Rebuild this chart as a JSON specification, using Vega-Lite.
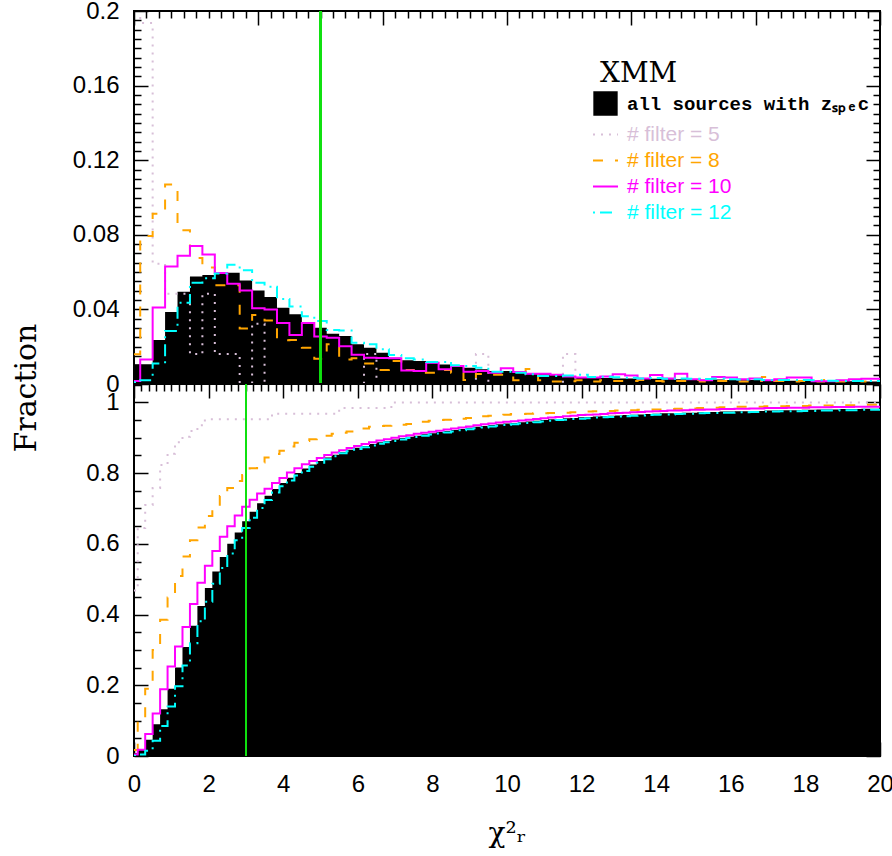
{
  "$schema": "https://vega.github.io/schema/vega-lite/v6.json",
  "background": "white",
  "padding": {"left": 12, "top": -2, "right": 0, "bottom": 5},
  "title": {"text": "Fraction", "orient": "left", "anchor": "middle", "font": "DejaVu Serif", "fontSize": 30, "fontWeight": "normal", "color": "black", "offset": 29, "dx": 35},
  "bounds": "flush",
  "spacing": 0,
  "config": {
    "view": {"stroke": "black", "strokeWidth": 2},
    "axis": {"domain": false, "grid": false, "tickColor": "black", "tickWidth": 1.5, "labelFont": "Liberation Sans", "labelFontSize": 24, "labelColor": "black", "labelOverlap": false, "labelFlush": false, "titleColor": "black"}
  },
  "resolve": {"scale": {"color": "independent", "strokeDash": "independent"}, "legend": {"color": "independent", "strokeDash": "independent"}},
  "datasets": {
    "top": [
      {"k":0,"all":0.0106,"f5":0.468,"f8":0.0159,"f10":0.0016,"f12":0.001},
      {"k":1,"all":0.0106,"f5":0.1935,"f8":0.0794,"f10":0.0132,"f12":0.002},
      {"k":2,"all":0.0236,"f5":0.0645,"f8":0.0913,"f10":0.041,"f12":0.011},
      {"k":3,"all":0.0386,"f5":0.0484,"f8":0.107,"f10":0.063,"f12":0.0284},
      {"k":4,"all":0.0495,"f5":0.0484,"f8":0.0825,"f10":0.0688,"f12":0.0436},
      {"k":5,"all":0.0576,"f5":0.0161,"f8":0.0676,"f10":0.074,"f12":0.0543},
      {"k":6,"all":0.0585,"f5":0.0484,"f8":0.0624,"f10":0.0695,"f12":0.0567},
      {"k":7,"all":0.0591,"f5":0.0161,"f8":0.053,"f10":0.0595,"f12":0.0592},
      {"k":8,"all":0.0596,"f5":0.0161,"f8":0.053,"f10":0.0537,"f12":0.064},
      {"k":9,"all":0.0555,"f5":0,"f8":0.0297,"f10":0.0502,"f12":0.061},
      {"k":10,"all":0.0502,"f5":0.0323,"f8":0.037,"f10":0.0406,"f12":0.0543},
      {"k":11,"all":0.0466,"f5":0,"f8":0.0341,"f10":0.04,"f12":0.0522},
      {"k":12,"all":0.0409,"f5":0,"f8":0.0235,"f10":0.0327,"f12":0.0456},
      {"k":13,"all":0.0374,"f5":0,"f8":0.0236,"f10":0.0263,"f12":0.0415},
      {"k":14,"all":0.0329,"f5":0,"f8":0.0195,"f10":0.0327,"f12":0.0363},
      {"k":15,"all":0.0302,"f5":0,"f8":0.0135,"f10":0.0255,"f12":0.0338},
      {"k":16,"all":0.027,"f5":0,"f8":0.0213,"f10":0.0248,"f12":0.029},
      {"k":17,"all":0.0257,"f5":0,"f8":0.0132,"f10":0.0202,"f12":0.0287},
      {"k":18,"all":0.0213,"f5":0,"f8":0.0138,"f10":0.0157,"f12":0.0221},
      {"k":19,"all":0.0195,"f5":0.0161,"f8":0.011,"f10":0.0141,"f12":0.0213},
      {"k":20,"all":0.0168,"f5":0,"f8":0.0075,"f10":0.014,"f12":0.0186},
      {"k":21,"all":0.0141,"f5":0,"f8":0.0123,"f10":0.0138,"f12":0.0155},
      {"k":22,"all":0.0127,"f5":0,"f8":0.0075,"f10":0.0073,"f12":0.0138},
      {"k":23,"all":0.0123,"f5":0,"f8":0.006,"f10":0.007,"f12":0.0132},
      {"k":24,"all":0.0111,"f5":0,"f8":0.006,"f10":0.0114,"f12":0.0118},
      {"k":25,"all":0.0105,"f5":0,"f8":0.0075,"f10":0.0079,"f12":0.0118},
      {"k":26,"all":0.0097,"f5":0,"f8":0.006,"f10":0.0097,"f12":0.01},
      {"k":27,"all":0.0087,"f5":0,"f8":0.0021,"f10":0.0066,"f12":0.0097},
      {"k":28,"all":0.0079,"f5":0.0161,"f8":0.0054,"f10":0.007,"f12":0.0087},
      {"k":29,"all":0.007,"f5":0,"f8":0.005,"f10":0.006,"f12":0.0066},
      {"k":30,"all":0.007,"f5":0,"f8":0.005,"f10":0.0085,"f12":0.0066},
      {"k":31,"all":0.006,"f5":0,"f8":0.002,"f10":0.0065,"f12":0.006},
      {"k":32,"all":0.0055,"f5":0,"f8":0.008,"f10":0.0055,"f12":0.0052},
      {"k":33,"all":0.0052,"f5":0,"f8":0.002,"f10":0.0055,"f12":0.0043},
      {"k":34,"all":0.0049,"f5":0,"f8":0.0013,"f10":0.005,"f12":0.0043},
      {"k":35,"all":0.0043,"f5":0.0161,"f8":0.0015,"f10":0.004,"f12":0.0045},
      {"k":36,"all":0.0038,"f5":0,"f8":0.002,"f10":0.0035,"f12":0.0049},
      {"k":37,"all":0.0034,"f5":0,"f8":0.0013,"f10":0.0035,"f12":0.0038},
      {"k":38,"all":0.0032,"f5":0,"f8":0.002,"f10":0.004,"f12":0.0039},
      {"k":39,"all":0.003,"f5":0,"f8":0.0016,"f10":0.0052,"f12":0.0036},
      {"k":40,"all":0.0029,"f5":0,"f8":0.0016,"f10":0.0045,"f12":0.0034},
      {"k":41,"all":0.0027,"f5":0,"f8":0.0021,"f10":0.003,"f12":0.003},
      {"k":42,"all":0.0028,"f5":0,"f8":0.0016,"f10":0.0048,"f12":0.0032},
      {"k":43,"all":0.0025,"f5":0,"f8":0.0013,"f10":0.003,"f12":0.0028},
      {"k":44,"all":0.0026,"f5":0,"f8":0.0016,"f10":0.0055,"f12":0.003},
      {"k":45,"all":0.0024,"f5":0,"f8":0.0021,"f10":0.0025,"f12":0.0028},
      {"k":46,"all":0.0023,"f5":0,"f8":0.0013,"f10":0.002,"f12":0.0027},
      {"k":47,"all":0.0024,"f5":0,"f8":0.0016,"f10":0.0037,"f12":0.0029},
      {"k":48,"all":0.0021,"f5":0,"f8":0.0016,"f10":0.0035,"f12":0.0025},
      {"k":49,"all":0.002,"f5":0,"f8":0.0013,"f10":0.0025,"f12":0.0024},
      {"k":50,"all":0.0021,"f5":0,"f8":0.0016,"f10":0.003,"f12":0.0025},
      {"k":51,"all":0.0019,"f5":0,"f8":0.0037,"f10":0.002,"f12":0.0022},
      {"k":52,"all":0.0019,"f5":0,"f8":0.0016,"f10":0.0025,"f12":0.0022},
      {"k":53,"all":0.0018,"f5":0,"f8":0.0013,"f10":0.0035,"f12":0.0022},
      {"k":54,"all":0.0018,"f5":0,"f8":0.0016,"f10":0.0035,"f12":0.0021},
      {"k":55,"all":0.0017,"f5":0,"f8":0.0013,"f10":0.0015,"f12":0.002},
      {"k":56,"all":0.0016,"f5":0,"f8":0.0021,"f10":0.0015,"f12":0.0018},
      {"k":57,"all":0.0015,"f5":0,"f8":0.0013,"f10":0.002,"f12":0.0016},
      {"k":58,"all":0.0015,"f5":0,"f8":0.0016,"f10":0.0025,"f12":0.0016},
      {"k":59,"all":0.0014,"f5":0,"f8":0.0013,"f10":0.0028,"f12":0.0016},
      {"k":60,"all":0.0014,"f5":0,"f8":0.0016,"f10":0.0028,"f12":0.0016}
    ],
    "bottom": [
      {"x":0,"all":0.008,"f5":0.468,"f8":0.017,"f10":0.004,"f12":0.001},
      {"x":0.2,"all":0.02,"f5":0.645,"f8":0.099,"f10":0.018,"f12":0.004},
      {"x":0.4,"all":0.046,"f5":0.71,"f8":0.19,"f10":0.062,"f12":0.015},
      {"x":0.6,"all":0.09,"f5":0.758,"f8":0.3,"f10":0.12,"f12":0.043},
      {"x":0.8,"all":0.132,"f5":0.823,"f8":0.385,"f10":0.189,"f12":0.085},
      {"x":1,"all":0.19,"f5":0.855,"f8":0.448,"f10":0.253,"f12":0.14},
      {"x":1.2,"all":0.25,"f5":0.887,"f8":0.509,"f10":0.31,"f12":0.197},
      {"x":1.4,"all":0.308,"f5":0.903,"f8":0.564,"f10":0.365,"f12":0.256},
      {"x":1.6,"all":0.368,"f5":0.919,"f8":0.61,"f10":0.43,"f12":0.319},
      {"x":1.8,"all":0.424,"f5":0.935,"f8":0.646,"f10":0.49,"f12":0.381},
      {"x":2,"all":0.475,"f5":0.952,"f8":0.679,"f10":0.538,"f12":0.436},
      {"x":2.2,"all":0.522,"f5":0.952,"f8":0.707,"f10":0.58,"f12":0.487},
      {"x":2.4,"all":0.563,"f5":0.952,"f8":0.735,"f10":0.62,"f12":0.532},
      {"x":2.6,"all":0.6,"f5":0.952,"f8":0.758,"f10":0.65,"f12":0.573},
      {"x":2.8,"all":0.632,"f5":0.952,"f8":0.778,"f10":0.68,"f12":0.61},
      {"x":3,"all":0.664,"f5":0.952,"f8":0.795,"f10":0.705,"f12":0.645},
      {"x":3.2,"all":0.691,"f5":0.952,"f8":0.814,"f10":0.725,"f12":0.674},
      {"x":3.4,"all":0.715,"f5":0.952,"f8":0.83,"f10":0.742,"f12":0.701},
      {"x":3.6,"all":0.736,"f5":0.952,"f8":0.844,"f10":0.756,"f12":0.724},
      {"x":3.8,"all":0.755,"f5":0.968,"f8":0.854,"f10":0.772,"f12":0.745},
      {"x":4,"all":0.772,"f5":0.968,"f8":0.863,"f10":0.786,"f12":0.763},
      {"x":4.2,"all":0.787,"f5":0.968,"f8":0.875,"f10":0.802,"f12":0.779},
      {"x":4.4,"all":0.8,"f5":0.968,"f8":0.886,"f10":0.814,"f12":0.793},
      {"x":4.6,"all":0.813,"f5":0.968,"f8":0.891,"f10":0.825,"f12":0.806},
      {"x":4.8,"all":0.824,"f5":0.968,"f8":0.896,"f10":0.834,"f12":0.818},
      {"x":5,"all":0.834,"f5":0.968,"f8":0.9,"f10":0.843,"f12":0.829},
      {"x":5.2,"all":0.844,"f5":0.968,"f8":0.906,"f10":0.851,"f12":0.839},
      {"x":5.4,"all":0.852,"f5":0.968,"f8":0.911,"f10":0.858,"f12":0.848},
      {"x":5.6,"all":0.86,"f5":0.984,"f8":0.914,"f10":0.865,"f12":0.856},
      {"x":5.8,"all":0.866,"f5":0.984,"f8":0.918,"f10":0.871,"f12":0.862},
      {"x":6,"all":0.872,"f5":0.984,"f8":0.921,"f10":0.877,"f12":0.868},
      {"x":6.2,"all":0.877,"f5":0.984,"f8":0.926,"f10":0.882,"f12":0.873},
      {"x":6.4,"all":0.882,"f5":0.984,"f8":0.931,"f10":0.887,"f12":0.878},
      {"x":6.6,"all":0.887,"f5":0.984,"f8":0.933,"f10":0.892,"f12":0.883},
      {"x":6.8,"all":0.891,"f5":0.984,"f8":0.934,"f10":0.896,"f12":0.887},
      {"x":7,"all":0.895,"f5":1,"f8":0.936,"f10":0.9,"f12":0.891},
      {"x":7.2,"all":0.899,"f5":1,"f8":0.937,"f10":0.904,"f12":0.895},
      {"x":7.4,"all":0.903,"f5":1,"f8":0.939,"f10":0.907,"f12":0.899},
      {"x":7.6,"all":0.906,"f5":1,"f8":0.941,"f10":0.911,"f12":0.902},
      {"x":7.8,"all":0.91,"f5":1,"f8":0.945,"f10":0.914,"f12":0.906},
      {"x":8,"all":0.913,"f5":1,"f8":0.948,"f10":0.917,"f12":0.909},
      {"x":8.2,"all":0.916,"f5":1,"f8":0.95,"f10":0.92,"f12":0.912},
      {"x":8.4,"all":0.919,"f5":1,"f8":0.951,"f10":0.923,"f12":0.915},
      {"x":8.6,"all":0.922,"f5":1,"f8":0.953,"f10":0.926,"f12":0.918},
      {"x":8.8,"all":0.925,"f5":1,"f8":0.954,"f10":0.929,"f12":0.921},
      {"x":9,"all":0.928,"f5":1,"f8":0.956,"f10":0.932,"f12":0.924},
      {"x":9.2,"all":0.931,"f5":1,"f8":0.96,"f10":0.935,"f12":0.927},
      {"x":9.4,"all":0.933,"f5":1,"f8":0.961,"f10":0.938,"f12":0.929},
      {"x":9.6,"all":0.936,"f5":1,"f8":0.962,"f10":0.94,"f12":0.932},
      {"x":9.8,"all":0.938,"f5":1,"f8":0.963,"f10":0.943,"f12":0.934},
      {"x":10,"all":0.94,"f5":1,"f8":0.965,"f10":0.945,"f12":0.936},
      {"x":10.2,"all":0.942,"f5":1,"f8":0.967,"f10":0.947,"f12":0.938},
      {"x":10.4,"all":0.944,"f5":1,"f8":0.967,"f10":0.949,"f12":0.94},
      {"x":10.6,"all":0.946,"f5":1,"f8":0.968,"f10":0.951,"f12":0.942},
      {"x":10.8,"all":0.948,"f5":1,"f8":0.969,"f10":0.953,"f12":0.944},
      {"x":11,"all":0.95,"f5":1,"f8":0.969,"f10":0.955,"f12":0.946},
      {"x":11.2,"all":0.952,"f5":1,"f8":0.97,"f10":0.957,"f12":0.948},
      {"x":11.4,"all":0.953,"f5":1,"f8":0.971,"f10":0.959,"f12":0.95},
      {"x":11.6,"all":0.955,"f5":1,"f8":0.971,"f10":0.961,"f12":0.951},
      {"x":11.8,"all":0.956,"f5":1,"f8":0.972,"f10":0.962,"f12":0.953},
      {"x":12,"all":0.958,"f5":1,"f8":0.973,"f10":0.964,"f12":0.954},
      {"x":12.2,"all":0.959,"f5":1,"f8":0.974,"f10":0.965,"f12":0.955},
      {"x":12.4,"all":0.96,"f5":1,"f8":0.975,"f10":0.966,"f12":0.957},
      {"x":12.6,"all":0.961,"f5":1,"f8":0.976,"f10":0.967,"f12":0.958},
      {"x":12.8,"all":0.962,"f5":1,"f8":0.976,"f10":0.969,"f12":0.959},
      {"x":13,"all":0.963,"f5":1,"f8":0.977,"f10":0.97,"f12":0.96},
      {"x":13.2,"all":0.964,"f5":1,"f8":0.978,"f10":0.971,"f12":0.961},
      {"x":13.4,"all":0.965,"f5":1,"f8":0.978,"f10":0.972,"f12":0.962},
      {"x":13.6,"all":0.966,"f5":1,"f8":0.979,"f10":0.973,"f12":0.963},
      {"x":13.8,"all":0.967,"f5":1,"f8":0.979,"f10":0.974,"f12":0.964},
      {"x":14,"all":0.968,"f5":1,"f8":0.98,"f10":0.975,"f12":0.965},
      {"x":14.2,"all":0.969,"f5":1,"f8":0.98,"f10":0.976,"f12":0.966},
      {"x":14.4,"all":0.969,"f5":1,"f8":0.981,"f10":0.977,"f12":0.966},
      {"x":14.6,"all":0.97,"f5":1,"f8":0.982,"f10":0.977,"f12":0.967},
      {"x":14.8,"all":0.971,"f5":1,"f8":0.982,"f10":0.978,"f12":0.968},
      {"x":15,"all":0.971,"f5":1,"f8":0.983,"f10":0.979,"f12":0.968},
      {"x":15.2,"all":0.972,"f5":1,"f8":0.984,"f10":0.979,"f12":0.969},
      {"x":15.4,"all":0.973,"f5":1,"f8":0.985,"f10":0.98,"f12":0.97},
      {"x":15.6,"all":0.973,"f5":1,"f8":0.985,"f10":0.98,"f12":0.97},
      {"x":15.8,"all":0.974,"f5":1,"f8":0.986,"f10":0.981,"f12":0.971},
      {"x":16,"all":0.974,"f5":1,"f8":0.987,"f10":0.981,"f12":0.971},
      {"x":16.2,"all":0.975,"f5":1,"f8":0.988,"f10":0.982,"f12":0.972},
      {"x":16.4,"all":0.975,"f5":1,"f8":0.988,"f10":0.982,"f12":0.972},
      {"x":16.6,"all":0.976,"f5":1,"f8":0.988,"f10":0.983,"f12":0.973},
      {"x":16.8,"all":0.976,"f5":1,"f8":0.988,"f10":0.983,"f12":0.973},
      {"x":17,"all":0.977,"f5":1,"f8":0.989,"f10":0.984,"f12":0.974},
      {"x":17.2,"all":0.977,"f5":1,"f8":0.989,"f10":0.984,"f12":0.974},
      {"x":17.4,"all":0.978,"f5":1,"f8":0.989,"f10":0.984,"f12":0.975},
      {"x":17.6,"all":0.978,"f5":1,"f8":0.99,"f10":0.985,"f12":0.975},
      {"x":17.8,"all":0.978,"f5":1,"f8":0.99,"f10":0.985,"f12":0.975},
      {"x":18,"all":0.979,"f5":1,"f8":0.99,"f10":0.985,"f12":0.976},
      {"x":18.2,"all":0.979,"f5":1,"f8":0.991,"f10":0.986,"f12":0.976},
      {"x":18.4,"all":0.98,"f5":1,"f8":0.991,"f10":0.986,"f12":0.977},
      {"x":18.6,"all":0.98,"f5":1,"f8":0.991,"f10":0.986,"f12":0.977},
      {"x":18.8,"all":0.98,"f5":1,"f8":0.991,"f10":0.987,"f12":0.977},
      {"x":19,"all":0.981,"f5":1,"f8":0.992,"f10":0.987,"f12":0.978},
      {"x":19.2,"all":0.981,"f5":1,"f8":0.992,"f10":0.987,"f12":0.978},
      {"x":19.4,"all":0.981,"f5":1,"f8":0.992,"f10":0.988,"f12":0.978},
      {"x":19.6,"all":0.982,"f5":1,"f8":0.993,"f10":0.988,"f12":0.979},
      {"x":19.8,"all":0.982,"f5":1,"f8":0.993,"f10":0.988,"f12":0.979},
      {"x":20,"all":0.982,"f5":1,"f8":0.993,"f10":0.988,"f12":0.979}
    ]
  },
  "vconcat": [
    {
      "width": 746,
      "height": 373,
      "data": {"name": "top"},
      "resolve": {"axis": {"x": "independent", "y": "independent"}},
      "layer": [
        {
          "mark": {"type": "area", "interpolate": "step", "color": "black", "clip": true},
          "encoding": {
            "x": {"field": "k", "type": "quantitative", "scale": {"domain": [0, 60], "nice": false, "zero": false},
              "axis": {"orient": "top", "title": null, "labels": false, "minExtent": 0, "maxExtent": 0,
                "values": [0,1,2,3,4,5,6,7,8,9,10,11,12,13,14,15,16,17,18,19,20,21,22,23,24,25,26,27,28,29,30,31,32,33,34,35,36,37,38,39,40,41,42,43,44,45,46,47,48,49,50,51,52,53,54,55,56,57,58,59,60],
                "tickSize": {"condition": {"test": "datum.value % 10 == 0", "value": -14}, "value": -7}}},
            "y": {"field": "all", "type": "quantitative", "scale": {"domain": [0, 0.2], "nice": false},
              "axis": {"orient": "left", "title": null, "labelPadding": 29,
                "values": [0,0.005,0.01,0.015,0.02,0.025,0.03,0.035,0.04,0.045,0.05,0.055,0.06,0.065,0.07,0.075,0.08,0.085,0.09,0.095,0.1,0.105,0.11,0.115,0.12,0.125,0.13,0.135,0.14,0.145,0.15,0.155,0.16,0.165,0.17,0.175,0.18,0.185,0.19,0.195,0.2],
                "labelExpr": "abs(datum.value*25 - round(datum.value*25)) < 0.001 ? format(datum.value, '~g') : ''",
                "tickSize": {"condition": {"test": "abs(datum.value*25 - round(datum.value*25)) < 0.001", "value": -14}, "value": -7}}}
          }
        },
        {
          "transform": [{"fold": ["f5", "f8", "f10", "f12"], "as": ["series", "frac"]}],
          "mark": {"type": "line", "interpolate": "step", "strokeWidth": 2, "clip": true},
          "encoding": {
            "x": {"field": "k", "type": "quantitative", "axis": null},
            "y": {"field": "frac", "type": "quantitative",
              "axis": {"orient": "right", "title": null, "labels": false,
                "values": [0,0.005,0.01,0.015,0.02,0.025,0.03,0.035,0.04,0.045,0.05,0.055,0.06,0.065,0.07,0.075,0.08,0.085,0.09,0.095,0.1,0.105,0.11,0.115,0.12,0.125,0.13,0.135,0.14,0.145,0.15,0.155,0.16,0.165,0.17,0.175,0.18,0.185,0.19,0.195,0.2],
                "tickSize": {"condition": {"test": "abs(datum.value*25 - round(datum.value*25)) < 0.001", "value": -14}, "value": -7}}},
            "color": {"field": "series", "type": "nominal",
              "scale": {"domain": ["all", "f5", "f8", "f10", "f12"], "range": ["#000000", "#d8bfd8", "#ffa500", "#ff00ff", "#00ffff"]},
              "legend": {
                "title": "XMM", "orient": "none", "legendX": 458, "legendY": 49,
                "titleFont": "DejaVu Serif", "titleFontSize": 28, "titleFontWeight": "normal", "titleColor": "black", "titlePadding": 2,
                "labelLimit": 400, "rowPadding": 2, "labelOffset": 8, "symbolType": "stroke",
                "labelExpr": "datum.value == 'all' ? 'all sources with zₛₚₑc' : datum.value == 'f5' ? '# filter = 5' : datum.value == 'f8' ? '# filter = 8' : datum.value == 'f10' ? '# filter = 10' : '# filter = 12'",
                "encode": {
                  "title": {"update": {"dx": {"value": 8}}},
                  "symbols": {"update": {
                    "shape": {"signal": "datum.value == 'all' ? 'square' : 'stroke'"},
                    "size": {"signal": "datum.value == 'all' ? 500 : 625"},
                    "fill": {"signal": "datum.value == 'all' ? 'black' : 'transparent'"},
                    "stroke": {"signal": "datum.value == 'all' ? 'black' : datum.value == 'f5' ? '#d8bfd8' : datum.value == 'f8' ? '#ffa500' : datum.value == 'f10' ? '#ff00ff' : '#00ffff'"},
                    "strokeDash": {"signal": "datum.value == 'f5' ? [2,6] : datum.value == 'f8' ? [10,12] : datum.value == 'f12' ? [2,5,12,6] : [1,0]"},
                    "strokeWidth": {"value": 2},
                    "opacity": {"value": 1}
                  }},
                  "labels": {"update": {
                    "fill": {"signal": "datum.value == 'all' ? 'black' : datum.value == 'f5' ? '#d8bfd8' : datum.value == 'f8' ? '#ffa500' : datum.value == 'f10' ? '#ff00ff' : '#00ffff'"},
                    "font": {"signal": "datum.value == 'all' ? 'Liberation Mono' : 'Liberation Sans'"},
                    "fontWeight": {"signal": "datum.value == 'all' ? 'bold' : 'normal'"},
                    "fontSize": {"signal": "datum.value == 'all' ? 19 : 21"}
                  }}
                }
              }},
            "strokeDash": {"field": "series", "type": "nominal", "legend": null,
              "scale": {"domain": ["all", "f5", "f8", "f10", "f12"], "range": [[1, 0], [2, 6], [10, 12], [1, 0], [2, 5, 12, 6]]}}
          }
        },
        {
          "mark": {"type": "rule", "color": "#10e010", "strokeWidth": 1.5},
          "encoding": {"x": {"datum": 15, "type": "quantitative", "axis": null}}
        }
      ]
    },
    {
      "width": 746,
      "height": 372,
      "data": {"name": "bottom"},
      "resolve": {"axis": {"x": "independent", "y": "independent"}},
      "layer": [
        {
          "mark": {"type": "area", "interpolate": "step", "color": "black", "clip": true},
          "encoding": {
            "x": {"field": "x", "type": "quantitative", "scale": {"domain": [0, 20], "nice": false, "zero": false},
              "axis": {"orient": "bottom", "title": "χ²ᵣ", "titleFont": "DejaVu Serif", "titleFontSize": 28, "titleFontWeight": "normal", "titlePadding": 16, "labelPadding": 30,
                "values": [0,0.2,0.4,0.6,0.8,1,1.2,1.4,1.6,1.8,2,2.2,2.4,2.6,2.8,3,3.2,3.4,3.6,3.8,4,4.2,4.4,4.6,4.8,5,5.2,5.4,5.6,5.8,6,6.2,6.4,6.6,6.8,7,7.2,7.4,7.6,7.8,8,8.2,8.4,8.6,8.8,9,9.2,9.4,9.6,9.8,10,10.2,10.4,10.6,10.8,11,11.2,11.4,11.6,11.8,12,12.2,12.4,12.6,12.8,13,13.2,13.4,13.6,13.8,14,14.2,14.4,14.6,14.8,15,15.2,15.4,15.6,15.8,16,16.2,16.4,16.6,16.8,17,17.2,17.4,17.6,17.8,18,18.2,18.4,18.6,18.8,19,19.2,19.4,19.6,19.8,20],
                "labelExpr": "abs(datum.value/2 - round(datum.value/2)) < 0.001 ? format(datum.value, '~g') : ''",
                "tickSize": {"condition": {"test": "abs(datum.value/2 - round(datum.value/2)) < 0.001", "value": -14}, "value": -7}}},
            "y": {"field": "all", "type": "quantitative", "scale": {"domain": [0, 1.052], "nice": false},
              "axis": {"orient": "left", "title": null, "labelPadding": 29,
                "values": [0,0.05,0.1,0.15,0.2,0.25,0.3,0.35,0.4,0.45,0.5,0.55,0.6,0.65,0.7,0.75,0.8,0.85,0.9,0.95,1,1.05],
                "labelExpr": "abs(datum.value*5 - round(datum.value*5)) < 0.001 ? format(datum.value, '~g') : ''",
                "tickSize": {"condition": {"test": "abs(datum.value*5 - round(datum.value*5)) < 0.001", "value": -14}, "value": -7}}}
          }
        },
        {
          "transform": [{"fold": ["f5", "f8", "f10", "f12"], "as": ["series", "cum"]}],
          "mark": {"type": "line", "interpolate": "step", "strokeWidth": 2, "clip": true},
          "encoding": {
            "x": {"field": "x", "type": "quantitative",
              "axis": {"orient": "top", "title": null, "labels": false, "minExtent": 0, "maxExtent": 0,
                "values": [0,0.2,0.4,0.6,0.8,1,1.2,1.4,1.6,1.8,2,2.2,2.4,2.6,2.8,3,3.2,3.4,3.6,3.8,4,4.2,4.4,4.6,4.8,5,5.2,5.4,5.6,5.8,6,6.2,6.4,6.6,6.8,7,7.2,7.4,7.6,7.8,8,8.2,8.4,8.6,8.8,9,9.2,9.4,9.6,9.8,10,10.2,10.4,10.6,10.8,11,11.2,11.4,11.6,11.8,12,12.2,12.4,12.6,12.8,13,13.2,13.4,13.6,13.8,14,14.2,14.4,14.6,14.8,15,15.2,15.4,15.6,15.8,16,16.2,16.4,16.6,16.8,17,17.2,17.4,17.6,17.8,18,18.2,18.4,18.6,18.8,19,19.2,19.4,19.6,19.8,20],
                "tickSize": {"condition": {"test": "abs(datum.value/2 - round(datum.value/2)) < 0.001", "value": -14}, "value": -7}}},
            "y": {"field": "cum", "type": "quantitative",
              "axis": {"orient": "right", "title": null, "labels": false,
                "values": [0,0.05,0.1,0.15,0.2,0.25,0.3,0.35,0.4,0.45,0.5,0.55,0.6,0.65,0.7,0.75,0.8,0.85,0.9,0.95,1,1.05],
                "tickSize": {"condition": {"test": "abs(datum.value*5 - round(datum.value*5)) < 0.001", "value": -14}, "value": -7}}},
            "color": {"field": "series", "type": "nominal", "legend": null,
              "scale": {"domain": ["all", "f5", "f8", "f10", "f12"], "range": ["#000000", "#d8bfd8", "#ffa500", "#ff00ff", "#00ffff"]}},
            "strokeDash": {"field": "series", "type": "nominal", "legend": null,
              "scale": {"domain": ["all", "f5", "f8", "f10", "f12"], "range": [[1, 0], [2, 6], [10, 12], [1, 0], [2, 5, 12, 6]]}}
          }
        },
        {
          "mark": {"type": "rule", "color": "#10e010", "strokeWidth": 1.5},
          "encoding": {"x": {"datum": 3, "type": "quantitative", "axis": null}}
        }
      ]
    }
  ]
}
